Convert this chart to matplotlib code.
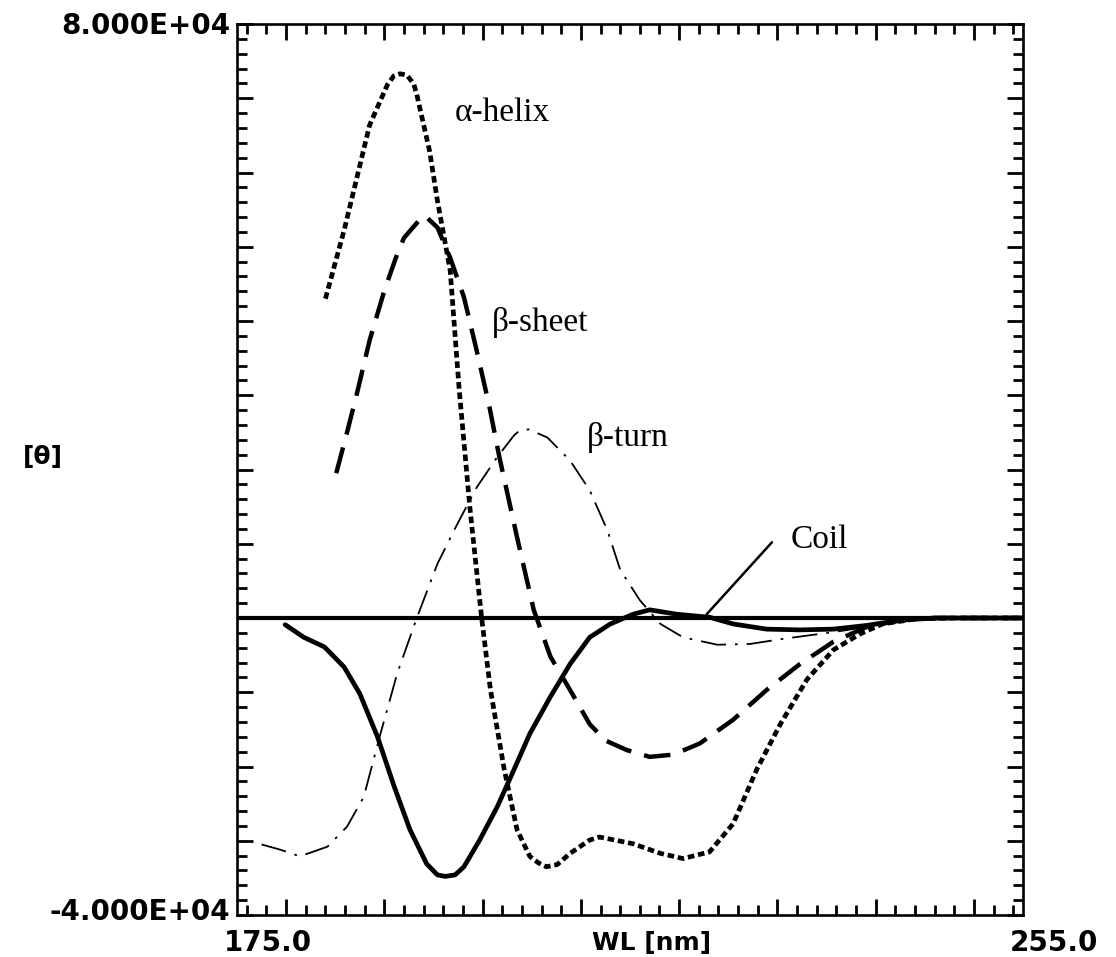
import matplotlib
matplotlib.use('Agg')
import matplotlib.pyplot as plt
from matplotlib.ticker import MultipleLocator

# ---------------- data ----------------
alpha_x = [184.0, 185.9, 187.2, 188.5, 190.3, 190.95, 191.6, 192.3, 193.0, 193.3,
           194.6, 195.4, 196.7, 197.6, 198.7, 199.9, 200.8, 202.2, 203.5, 204.8,
           205.7, 206.5, 207.6, 208.9, 210.9, 211.9, 215.3, 218.1, 220.4, 223.1,
           225.5, 227.9, 230.3, 233.0, 235.7, 238.4, 240.7, 244.2, 248.0, 255.0]
alpha_y = [43000, 52200, 59300, 66400, 71800, 73000, 73300, 73100, 71900, 70500,
           62900, 56200, 46800, 31000, 14900, 0, -9700, -20400, -28500, -32100,
           -33000, -33500, -33200, -31700, -29900, -29500, -30400, -31700, -32400, -31500,
           -27700, -20400, -14300, -8300, -4300, -2150, -800, -100, 0, 0]

sheet_x = [185.1, 186.2, 187.2, 188.5, 190.0, 191.3, 192.0, 193.5, 194.1, 195.4,
           196.7, 198.1, 199.4, 200.7, 201.7, 203.5, 205.2, 206.9, 208.9, 210.9,
           212.5, 214.7, 217.0, 219.4, 222.1, 225.5, 228.9, 232.3, 235.7, 239.1,
           242.5, 246.0, 255.0]
sheet_y = [19500, 25000, 30200, 37400, 44100, 49000, 51200, 53500, 54200, 52600,
           48500, 43200, 36000, 28400, 21700, 10900, 1100, -5200, -9700, -14300,
           -16500, -17800, -18700, -18400, -16900, -13700, -9700, -6200, -3200, -1200,
           -300, 0, 0]

turn_x = [177.5, 179.4, 181.4, 184.2, 186.2, 187.9, 189.6, 191.3, 193.3, 195.4,
          197.4, 199.4, 201.5, 203.2, 203.8, 204.7, 206.6, 208.9, 210.9, 212.7,
          214.0, 216.0, 218.1, 220.4, 223.9, 227.2, 230.6, 235.7, 239.1, 245.0,
          255.0]
turn_y = [-30500, -31200, -32100, -30800, -28100, -24100, -15600, -7500, 0, 7300,
          12600, 17600, 21700, 24600, 25300, 25400, 24300, 21200, 17200, 11800,
          6500, 2400, -800, -2600, -3600, -3500, -2800, -1900, -1200, 0,
          0]

coil_x = [179.9, 181.8, 183.9, 185.9, 187.5, 189.3, 191.0, 192.6, 194.3, 195.4,
          196.2, 197.2, 198.1, 199.7, 201.5, 203.2, 204.8, 206.9, 208.9, 210.9,
          213.0, 215.3, 217.0, 219.8, 223.1, 225.5, 228.9, 232.3, 235.7, 239.1,
          242.5, 246.0, 255.0]
coil_y = [-900, -2600, -3900, -6600, -10200, -16000, -22700, -28500, -33100, -34600,
          -34800, -34600, -33500, -29900, -25400, -20400, -15600, -10600, -6200, -2600,
          -800, 500, 1100, 500, 100, -800, -1500, -1600, -1500, -1000,
          -300, 0, 0]

x_limits = (175.0, 255.0)
y_limits = (-40000, 80000)
x_tick_labels = ["175.0", "255.0"]
y_tick_labels = ["8.000E+04", "-4.000E+04"]
series_labels = ["α-helix", "β-sheet", "β-turn", "Coil"]
x_title = "WL [nm]"
y_title = "[θ]"

# ---------------- figure ----------------
W, H = 1116, 957
fig = plt.figure(figsize=(W / 100, H / 100), dpi=100)
L, R, T, B = 237, 1023, 24, 915
ax = fig.add_axes([L / W, 1 - B / H, (R - L) / W, (B - T) / H])
ax.set_xlim(*x_limits)
ax.set_ylim(*y_limits)

ax.xaxis.set_major_locator(MultipleLocator(10))
ax.xaxis.set_minor_locator(MultipleLocator(2))
ax.yaxis.set_major_locator(MultipleLocator(10000))
ax.yaxis.set_minor_locator(MultipleLocator(2000))
ax.tick_params(which='both', direction='in', top=True, right=True,
               labelbottom=False, labelleft=False, width=2.0, color='black')
ax.tick_params(which='major', length=11.5)
ax.tick_params(which='minor', length=7.5)
for s in ax.spines.values():
    s.set_linewidth(1.9)

# zero baseline
ax.axhline(0, color='black', lw=3.0, zorder=2)

# curves
ax.plot(alpha_x, alpha_y, color='black', lw=3.4, linestyle=(0, (1.4, 0.8)), zorder=3,
        solid_joinstyle='round')
ax.plot(sheet_x, sheet_y, color='black', lw=3.2, linestyle=(0, (6, 3)), zorder=3)
ax.plot(turn_x, turn_y, color='black', lw=1.3, linestyle=(0, (14, 5, 1.5, 5)), zorder=3)
ax.plot(coil_x, coil_y, color='black', lw=3.4, linestyle='-', zorder=3,
        solid_joinstyle='round', solid_capstyle='round')

# labels on curves
lab_font = dict(family='Liberation Serif', fontsize=24, color='black',
                ha='center', va='center')
ax.text(202.0, 68000, series_labels[0], **lab_font)
ax.text(205.9, 39800, series_labels[1], **lab_font)
ax.text(214.8, 24300, series_labels[2], **lab_font)
ax.text(234.3, 10600, series_labels[3], **lab_font)
ax.annotate('', xy=(222.8, 500), xytext=(229.45, 10200),
            arrowprops=dict(arrowstyle='-', color='black', lw=1.8,
                            shrinkA=0, shrinkB=0))

# axis texts (pixel positions converted to figure fractions)
def fx(px):
    return px / W

def fy(py):
    return 1 - py / H

tick_font = dict(family='DejaVu Sans', fontweight='bold', fontsize=20, color='black')
title_font = dict(family='DejaVu Sans', fontweight='bold', fontsize=18, color='black')
fig.text(fx(230), fy(26), y_tick_labels[0], ha='right', va='center', **tick_font)
fig.text(fx(230), fy(912), y_tick_labels[1], ha='right', va='center', **tick_font)
fig.text(fx(268), fy(943), x_tick_labels[0], ha='center', va='center', **tick_font)
fig.text(fx(1054), fy(943), x_tick_labels[1], ha='center', va='center', **tick_font)
fig.text(fx(652), fy(943), x_title, ha='center', va='center', **title_font)
fig.text(fx(43), fy(457), y_title, ha='center', va='center', **title_font)

fig.savefig('out.png', dpi=100, facecolor='white')
